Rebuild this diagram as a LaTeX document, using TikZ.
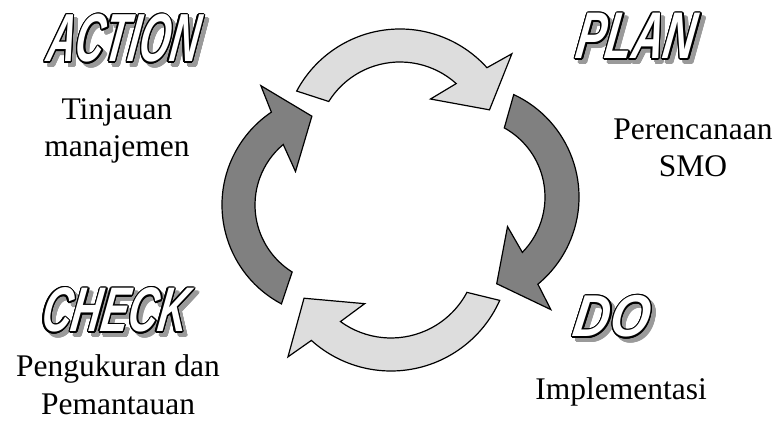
\documentclass[tikz,border=0pt]{standalone}
\usepackage{fontspec}
\setmainfont{Liberation Serif}
\newfontfamily\artfont{Liberation Sans}
\definecolor{cycledark}{HTML}{808080}
\definecolor{cyclelight}{HTML}{DDDDDD}
\definecolor{shadowgray}{HTML}{9A9A9A}

% curved block arrow: centre x, centre y, rotation, outer radius, inner radius,
% tail angle, head angle, fill colour
\newcommand\cyclearc[8]{%
  \begin{scope}[shift={(#1,#2)}, rotate=#3]
    \draw[cyclearrow, fill=#8] (#6:#4) arc[start angle=#6, end angle=#7, radius=#4]
      -- ({#7-2.5}:{#4+28}) -- ({#7-20}:{(#4+#5)/2-4}) -- ({#7+15}:{#5-28})
      -- ({#7+6}:#5) arc[start angle={#7+6}, end angle={#6-4}, radius=#5] -- cycle;
  \end{scope}}

% hollow title lettering: grey drop shadow, black rim, white face
% name, x, y (baseline), word, font size, horizontal stretch
\newcommand\titleword[6]{%
  \foreach \i in {0,...,15}
    \node[phasetitle={#5}{#6}, text=shadowgray] (#1-s\i)
      at ({#2+4+1.4*cos(\i*22.5)},{#3-4+1.4*sin(\i*22.5)}) {#4};
  \node[phasetitle={#5}{#6}, text=shadowgray] (#1-s) at ({#2+4},{#3-4}) {#4};
  \foreach \i in {0,...,15}
    \node[phasetitle={#5}{#6}, text=black] (#1-o\i)
      at ({#2+1.4*cos(\i*22.5)},{#3+1.4*sin(\i*22.5)}) {#4};
  \node[phasetitle={#5}{#6}, text=white] (#1) at (#2,#3) {#4};
}

\begin{document}
\begin{tikzpicture}[x=1pt, y=1pt,
  cyclearrow/.style={draw=black, line width=1.2pt, line join=miter},
  phasetitle/.style 2 args={anchor=base, inner sep=0pt,
    font={\artfont\bfseries\itshape\addfontfeatures{FakeStretch=#2,FakeSlant=0.15}%
      \fontsize{#1}{#1}\selectfont}},
  steptext/.style={anchor=base, align=center, inner sep=0pt,
    font=\fontsize{31.5}{37}\selectfont}]
\useasboundingbox (0,0) rectangle (775,425);

% the four arrows of the cycle
\cyclearc{400}{279}{0}{117}{84}{152}{42}{cyclelight}
\cyclearc{466}{228}{-90}{113}{79}{155}{39.5}{cycledark}
\cyclearc{391}{173}{180}{119}{86}{156}{48}{cyclelight}
\cyclearc{334}{220}{90}{112}{79}{152}{34}{cycledark}

% phase titles
\titleword{act}{121}{363}{ACTION}{68}{0.58}
\titleword{plan}{634}{366}{PLAN}{66}{0.66}
\titleword{chk}{113}{93}{CHECK}{63}{0.65}
\titleword{do}{610}{88}{DO}{59}{0.86}

% descriptions (anchored at the baseline of the last line)
\node[steptext] (actdesc)  at (117,268) {Tinjauan\\manajemen};
\node[steptext] (plandesc) at (693,248) {Perencanaan\\SMO};
\node[steptext] (chkdesc)  at (118,11)  {Pengukuran dan\\Pemantauan};
\node[steptext] (dodesc)   at (621,25)  {Implementasi};
\end{tikzpicture}
\end{document}
